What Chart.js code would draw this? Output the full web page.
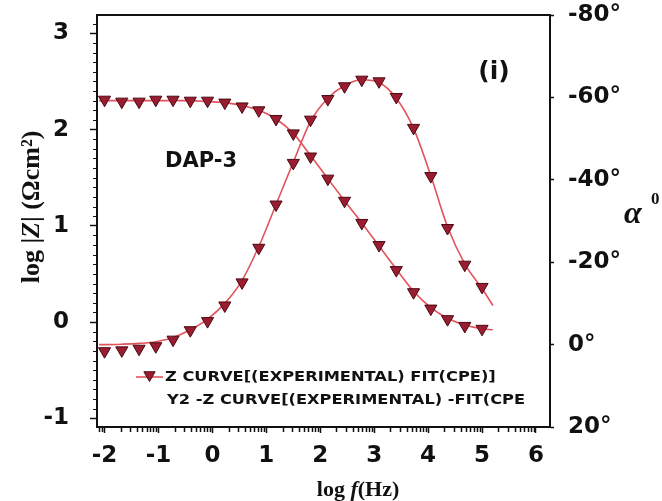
<!DOCTYPE html>
<html>
<head>
<meta charset="utf-8">
<script src="https://cdn.jsdelivr.net/npm/chart.js@4/dist/chart.umd.min.js"></script>
<style>
  html, body { margin: 0; padding: 0; background: #ffffff; }
  canvas { display: block; }
</style>
</head>
<body>
<canvas id="bode" width="662" height="501"></canvas>
<script>
// Measured frequencies, log10(f / Hz)
const logFreq = [-2.00, -1.68, -1.36, -1.05, -0.73, -0.41, -0.09, 0.23, 0.55, 0.86, 1.18, 1.50,
                 1.82, 2.14, 2.45, 2.77, 3.09, 3.41, 3.73, 4.05, 4.36, 4.68, 5.00];
// Measured impedance modulus, log10(|Z| / Ω cm²)
const logZ = [2.31, 2.29, 2.29, 2.31, 2.31, 2.30, 2.30, 2.28, 2.24, 2.20, 2.11, 1.96,
              1.72, 1.49, 1.26, 1.03, 0.80, 0.54, 0.31, 0.14, 0.03, -0.04, -0.07];
// Measured phase angle, degrees
const phase = [1.6, 1.4, 1.0, 0.4, -1.2, -3.5, -5.7, -9.5, -15.1, -23.5, -34.0, -44.1,
               -54.6, -59.6, -62.7, -64.3, -63.9, -60.1, -52.6, -40.9, -28.3, -19.4, -14.0];

// CPE equivalent-circuit fit
const fitFreq = [-2.10, -2.00, -1.68, -1.36, -1.05, -0.73, -0.41, -0.09, 0.23, 0.55, 0.86, 1.18, 1.50,
                 1.82, 2.14, 2.45, 2.77, 3.09, 3.41, 3.73, 4.05, 4.36, 4.68, 5.00, 5.20];
const fitZ = [2.30, 2.30, 2.30, 2.30, 2.30, 2.30, 2.30, 2.29, 2.28, 2.25, 2.20, 2.11, 1.96,
              1.73, 1.49, 1.26, 1.03, 0.79, 0.55, 0.32, 0.15, 0.04, -0.03, -0.07, -0.08];
const fitPhase = [0.0, 0.0, -0.1, -0.3, -0.7, -1.7, -3.6, -6.2, -10.0, -15.6, -23.8, -34.0, -44.3,
                  -54.2, -59.8, -62.9, -64.3, -63.6, -59.8, -52.5, -41.0, -28.6, -19.6, -13.6, -9.5];

// Axis tick values
const zTicks = [-1, 0, 1, 2, 3];
const phaseTicks = [-80, -60, -40, -20, 0, 20];
const freqTicks = [-2, -1, 0, 1, 2, 3, 4, 5, 6];

const INK = '#111111';
const MARK_FILL = '#9a1c30';
const MARK_EDGE = '#4a0a12';
const FIT_RED = '#e2535c';
const SANS = '"DejaVu Sans", "Liberation Sans", sans-serif';
const SERIF = '"Liberation Serif", "DejaVu Serif", serif';

const pts = (xs, ys) => xs.map((x, i) => ({ x: x, y: ys[i] }));

function stretchText(ctx, str, x, y, sx) {
  ctx.save();
  ctx.translate(x, y);
  ctx.scale(sx, 1);
  ctx.fillText(str, 0, 0);
  ctx.restore();
}

// draws a run of differently styled pieces, centred on cx
function drawRuns(ctx, parts, cx, y) {
  let total = 0;
  parts.forEach(p => { ctx.font = p.f; p.w = ctx.measureText(p.t).width; total += p.w; });
  let x = cx - total / 2;
  ctx.textAlign = 'left';
  parts.forEach(p => { ctx.font = p.f; ctx.fillText(p.t, x, y); x += p.w; });
}

// Frame, minor ticks and annotations
const decor = {
  id: 'decor',
  afterDraw(chart) {
    const { ctx, chartArea: a, scales } = chart;
    ctx.save();

    // box around the plot
    ctx.strokeStyle = INK;
    ctx.lineWidth = 2;
    ctx.strokeRect(a.left, a.top, a.right - a.left, a.bottom - a.top);

    // minor ticks on log|Z| axis
    ctx.lineWidth = 1.2;
    const ys = scales.y;
    ctx.beginPath();
    for (let k = -12; k <= 32; k++) {
      if (k % 10 === 0) continue;
      const v = k / 10;
      if (v < ys.min || v > ys.max) continue;
      const py = Math.round(ys.getPixelForValue(v)) + 0.5;
      ctx.moveTo(a.left - 4, py);
      ctx.lineTo(a.left, py);
    }
    ctx.stroke();

    // logarithmic minor ticks on frequency axis
    const xs = scales.x;
    ctx.lineWidth = 1.5;
    ctx.beginPath();
    for (let d = -3; d <= 6; d++) {
      for (let m = 2; m <= 9; m++) {
        const v = d + Math.log10(m);
        if (v < xs.min || v > xs.max) continue;
        const px = Math.round(xs.getPixelForValue(v)) + 0.5;
        ctx.moveTo(px, a.bottom);
        ctx.lineTo(px, a.bottom + 5);
      }
    }
    ctx.stroke();

    ctx.fillStyle = INK;
    ctx.textBaseline = 'middle';

    // sample name and panel tag
    ctx.textAlign = 'left';
    ctx.font = 'bold 21px ' + SANS;
    ctx.fillText('DAP-3', 165, 162);
    ctx.textAlign = 'center';
    ctx.font = 'bold 25px ' + SANS;
    ctx.fillText('(i)', 494, 72);

    // legend
    ctx.strokeStyle = FIT_RED;
    ctx.lineWidth = 1.6;
    ctx.beginPath();
    ctx.moveTo(136, 377);
    ctx.lineTo(163, 377);
    ctx.stroke();
    ctx.fillStyle = MARK_FILL;
    ctx.strokeStyle = MARK_EDGE;
    ctx.lineWidth = 1;
    Chart.helpers.drawPoint(ctx, { pointStyle: 'triangle', rotation: 180, radius: 6.5, borderWidth: 1 }, 149.5, 375);
    ctx.fillStyle = INK;
    ctx.textAlign = 'left';
    ctx.font = 'bold 14px ' + SANS;
    stretchText(ctx, 'Z CURVE[(EXPERIMENTAL) FIT(CPE)]', 165, 377, 1.16);
    stretchText(ctx, 'Y2 -Z CURVE[(EXPERIMENTAL) -FIT(CPE', 167, 400, 1.16);

    ctx.textBaseline = 'alphabetic';

    // x axis title: log f(Hz)
    drawRuns(ctx, [
      { t: 'log ', f: 'bold 22px ' + SERIF },
      { t: 'f', f: 'italic bold 22px ' + SERIF },
      { t: '(Hz)', f: 'bold 22px ' + SERIF }
    ], 358, 496);

    // left axis title: log |Z| (Ωcm²), read bottom to top
    ctx.save();
    ctx.translate(39, 207);
    ctx.rotate(-Math.PI / 2);
    drawRuns(ctx, [
      { t: 'log |', f: 'bold 26px ' + SERIF },
      { t: 'Z', f: 'italic bold 26px ' + SERIF },
      { t: '| (Ωcm²)', f: 'bold 26px ' + SERIF }
    ], 0, 0);
    ctx.restore();

    // right axis title: α⁰
    ctx.font = 'italic bold 32px ' + SERIF;
    ctx.fillText('α', 624, 223);
    ctx.font = 'bold 17px ' + SERIF;
    ctx.fillText('0', 651, 204);

    ctx.restore();
  }
};

// scale boxes are given fixed sizes so the plot frame sits where it should
const fixBox = (w, h) => s => {
  if (w !== null) s.width = w;
  if (h !== null) s.height = h;
  s.paddingTop = 0; s.paddingBottom = 0; s.paddingLeft = 0; s.paddingRight = 0;
};

new Chart(document.getElementById('bode'), {
  type: 'scatter',
  data: {
    datasets: [
      {
        label: 'Z CURVE[(EXPERIMENTAL) FIT(CPE)]',
        data: pts(logFreq, logZ),
        yAxisID: 'y',
        pointStyle: 'triangle', rotation: 180, pointRadius: 7,
        backgroundColor: MARK_FILL, borderColor: MARK_EDGE, borderWidth: 1
      },
      {
        label: 'Y2 -Z CURVE[(EXPERIMENTAL) -FIT(CPE',
        data: pts(logFreq, phase),
        yAxisID: 'y2',
        pointStyle: 'triangle', rotation: 180, pointRadius: 7,
        backgroundColor: MARK_FILL, borderColor: MARK_EDGE, borderWidth: 1
      },
      {
        label: 'FIT(CPE) |Z|',
        data: pts(fitFreq, fitZ),
        yAxisID: 'y',
        showLine: true, pointRadius: 0,
        borderColor: FIT_RED, borderWidth: 1.6,
        cubicInterpolationMode: 'monotone'
      },
      {
        label: 'FIT(CPE) phase',
        data: pts(fitFreq, fitPhase),
        yAxisID: 'y2',
        showLine: true, pointRadius: 0,
        borderColor: FIT_RED, borderWidth: 1.6,
        cubicInterpolationMode: 'monotone'
      }
    ]
  },
  options: {
    responsive: false,
    animation: false,
    events: [],
    devicePixelRatio: 1,
    layout: { padding: { top: 15, left: 0, right: 0, bottom: 0 }, autoPadding: false },
    plugins: { legend: { display: false }, tooltip: { enabled: false } },
    scales: {
      x: {
        type: 'linear', position: 'bottom',
        min: -2.14, max: 6.26,
        afterFit: fixBox(null, 74),
        afterBuildTicks: s => { s.ticks = freqTicks.map(v => ({ value: v })); },
        border: { display: true, color: INK, width: 2 },
        grid: { drawOnChartArea: false, drawTicks: true, tickLength: 6, tickColor: INK, tickWidth: 1.5 },
        ticks: { color: INK, font: { family: SANS, size: 23, weight: 'bold' }, padding: 9, maxRotation: 0, autoSkip: false }
      },
      y: {
        type: 'linear', position: 'left',
        min: -1.09, max: 3.19,
        afterFit: fixBox(97, null),
        afterBuildTicks: s => { s.ticks = zTicks.map(v => ({ value: v })); },
        border: { display: true, color: INK, width: 2 },
        grid: { drawOnChartArea: false, drawTicks: true, tickLength: 7, tickColor: INK, tickWidth: 1.5 },
        ticks: { color: INK, font: { family: SANS, size: 23, weight: 'bold' }, padding: 21 }
      },
      y2: {
        type: 'linear', position: 'right',
        min: -80, max: 20, reverse: true,
        afterFit: fixBox(112, null),
        afterBuildTicks: s => { s.ticks = phaseTicks.map(v => ({ value: v })); },
        border: { display: true, color: INK, width: 2 },
        grid: { drawOnChartArea: false, drawTicks: true, tickLength: 4, tickColor: INK, tickWidth: 1.5 },
        ticks: {
          color: INK, font: { family: SANS, size: 23, weight: 'bold' }, padding: 14,
          callback: v => v + '°'
        }
      }
    }
  },
  plugins: [decor]
});
</script>
</body>
</html>
